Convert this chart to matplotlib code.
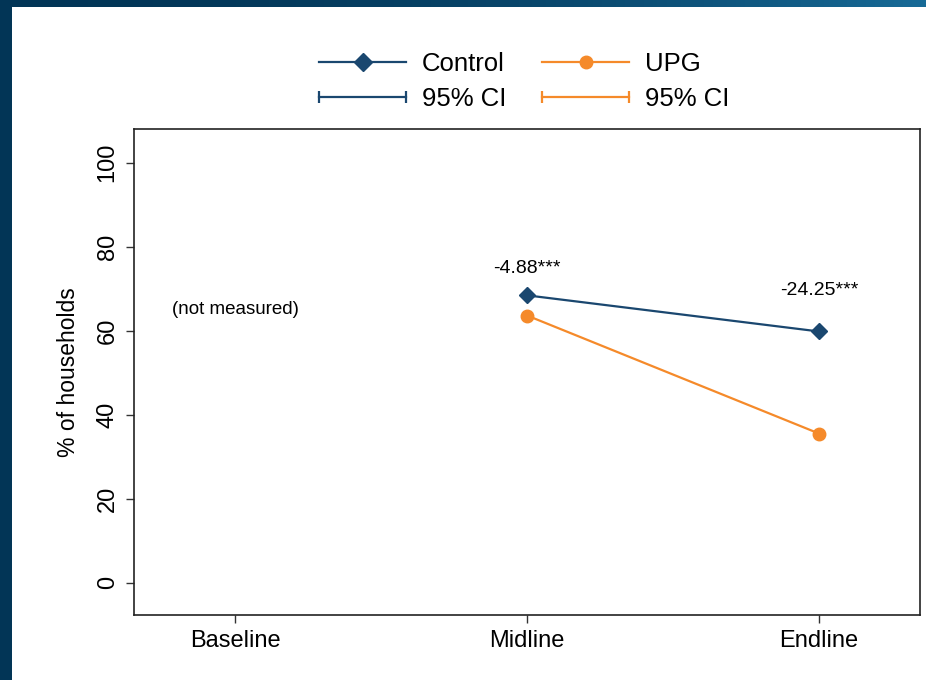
import matplotlib
matplotlib.use("Agg")
import matplotlib.pyplot as plt
import numpy as np
from matplotlib.lines import Line2D
from matplotlib.patches import Rectangle
from matplotlib.legend_handler import HandlerLine2D

plt.rcParams['font.family'] = ['Liberation Sans', 'DejaVu Sans']

# data
rounds = ["Baseline", "Midline", "Endline"]
control_rounds = ["Midline", "Endline"]
control_vals = [68.4, 59.8]
control_ci = [0.7, 0.9]
upg_vals = [63.6, 35.5]
upg_ci = [0.6, 0.7]
effects = ["-4.88***", "-24.25***"]
effect_y = [74.9, 69.6]
note = "(not measured)"
note_y = 65

navy = "#1a476f"
orange = "#f58a2a"

fig = plt.figure(figsize=(9.26, 6.8), dpi=100)

# dark blue slide frame with a gradient, white panel on top
bg = fig.add_axes([0, 0, 1, 1], zorder=-10)
gx = np.linspace(0, 1, 200)
gy = np.linspace(0, 1, 100)
GX, GY = np.meshgrid(gx, gy)
dark = np.array([0.01, 0.21, 0.34])
light = np.array([0.10, 0.44, 0.62])
t = np.clip(GX ** 2 * 0.9 - GY * 0.15, 0, 1)[..., None]
bg.imshow(dark + (light - dark) * t, aspect='auto', extent=[0, 1, 0, 1], origin='upper')
bg.add_patch(Rectangle((12 / 926, 0), 1, 1 - 7 / 680, transform=bg.transAxes,
                       facecolor='white', edgecolor='none'))
bg.set_xlim(0, 1)
bg.set_ylim(0, 1)
bg.axis('off')

ax = fig.add_axes([134 / 926, 1 - 615 / 680, (920 - 134) / 926, (615 - 129) / 680])
ax.set_facecolor('none')

pos = {r: i + 1 for i, r in enumerate(rounds)}
xc = [pos[r] for r in control_rounds]

ax.errorbar(xc, control_vals, yerr=control_ci, fmt='none', ecolor=navy, elinewidth=1.5,
            capsize=3, capthick=1.5, zorder=3)
ax.errorbar(xc, upg_vals, yerr=upg_ci, fmt='none', ecolor=orange, elinewidth=1.5,
            capsize=3, capthick=1.5, zorder=3)
ax.plot(xc, control_vals, color=navy, lw=1.6, marker='D', ms=8.5, zorder=4)
ax.plot(xc, upg_vals, color=orange, lw=1.6, marker='o', ms=9, zorder=4)

for x, lab, y in zip(xc, effects, effect_y):
    ax.text(x, y, lab, ha='center', va='center', fontsize=14)
ax.text(pos["Baseline"], note_y, note, ha='center', va='center', fontsize=13.5)

ax.set_xlim(0.654, 3.346)
ax.set_ylim(-7.7, 108)
ax.set_xticks([pos[r] for r in rounds])
ax.set_xticklabels(rounds, fontsize=17)
ax.set_yticks([0, 20, 40, 60, 80, 100])
ax.set_yticklabels(["0", "20", "40", "60", "80", "100"], fontsize=17, rotation=90, va='center')
ax.tick_params(axis='both', length=6, width=1, color='#333333', pad=5)
ax.set_ylabel("% of households", fontsize=16.5, labelpad=12)
for s in ax.spines.values():
    s.set_linewidth(1.2)
    s.set_color('#222222')

# legend
h_ctrl = Line2D([0], [0], color=navy, lw=1.6, marker='D', ms=9)
h_ctrl_ci = Line2D([0], [0], color=navy, lw=1.6, marker='|', ms=9, mew=1.6)
h_upg = Line2D([0], [0], color=orange, lw=1.6, marker='o', ms=9)
h_upg_ci = Line2D([0], [0], color=orange, lw=1.6, marker='|', ms=9, mew=1.6)
ci_handler = HandlerLine2D(numpoints=2, marker_pad=0)
fig.legend(handles=[h_ctrl, h_ctrl_ci, h_upg, h_upg_ci],
           labels=["Control", "95% CI", "UPG", "95% CI"],
           handler_map={h_ctrl_ci: ci_handler, h_upg_ci: ci_handler},
           ncol=2, loc='center', bbox_to_anchor=(524 / 926, 1 - 81.5 / 680),
           frameon=False, fontsize=18.5, handlelength=3.4, handletextpad=0.6,
           columnspacing=1.4, labelspacing=0.45)

fig.savefig("out.png", dpi=100)
